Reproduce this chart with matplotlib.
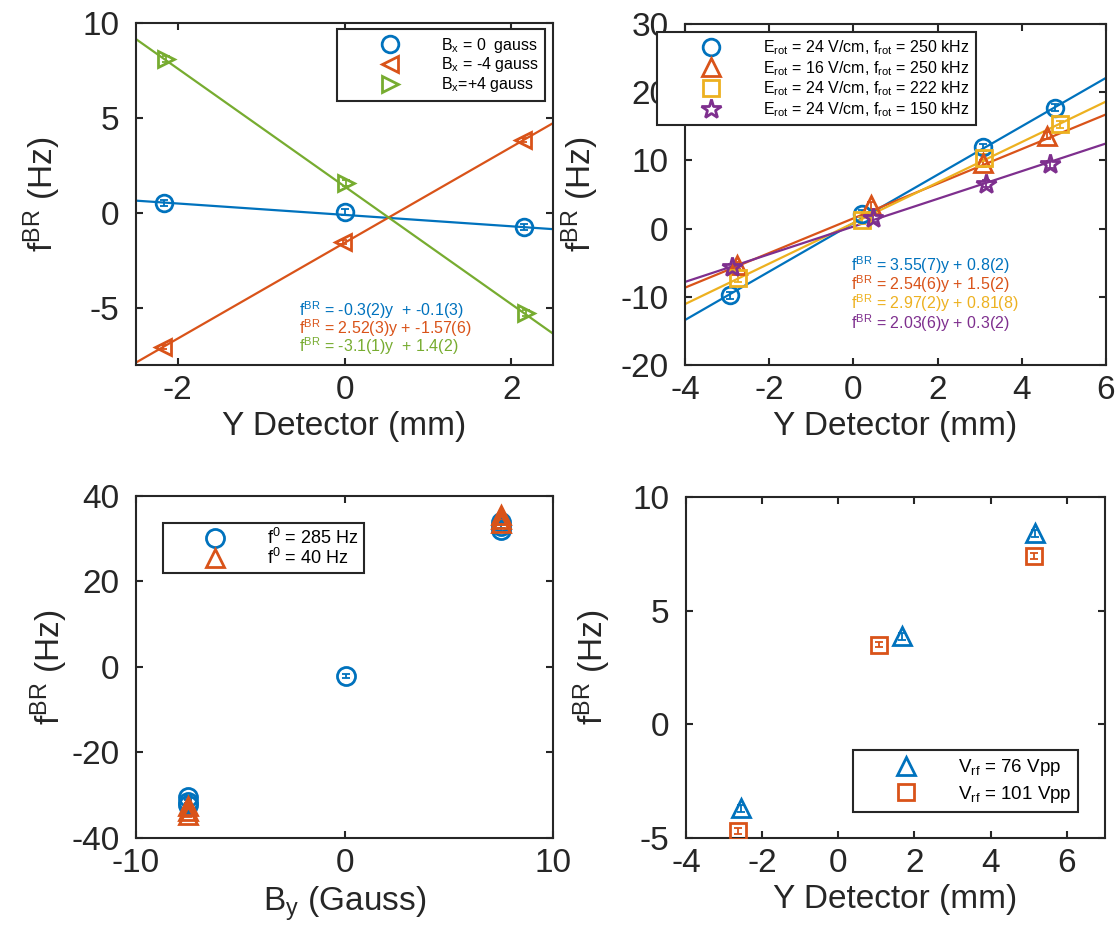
import numpy as np
import matplotlib
matplotlib.use("Agg")
import matplotlib.pyplot as plt
from matplotlib.legend_handler import HandlerLine2D
from matplotlib.lines import Line2D

plt.rcParams['font.family'] = ['Liberation Sans', 'DejaVu Sans']
plt.rcParams['mathtext.fontset'] = 'custom'
plt.rcParams['mathtext.rm'] = 'Liberation Sans'
plt.rcParams['mathtext.it'] = 'Liberation Sans:italic'
plt.rcParams['mathtext.bf'] = 'Liberation Sans:bold'
plt.rcParams['axes.unicode_minus'] = False

BLUE = '#0072BD'
ORANGE = '#D95319'
YELLOW = '#EDB120'
PURPLE = '#7E2F8E'
GREEN = '#77AC30'
AXC = '#262626'

# ---------------- Data: panel A (top-left) ----------------
a_labels = [r'B$_{\rm x}$ = 0  gauss', r'B$_{\rm x}$ = -4 gauss', r'B$_{\rm x}$=+4 gauss']
a_x = [[-2.16, 0.01, 2.15], [-2.18, -0.02, 2.14], [-2.14, 0.02, 2.17]]
a_y = [[0.53, 0.05, -0.74], [-7.05, -1.53, 3.84], [8.1, 1.58, -5.28]]
a_err = [[0.15, 0.15, 0.15], [0.12, 0.12, 0.12], [0.15, 0.15, 0.15]]
a_slope = [-0.3, 2.52, -3.1]
a_icpt = [-0.1, -1.57, 1.4]
a_text = [r'f$^{\rm BR}$ = -0.3(2)y  + -0.1(3)',
          r'f$^{\rm BR}$ = 2.52(3)y + -1.57(6)',
          r'f$^{\rm BR}$ = -3.1(1)y  + 1.4(2)']

# ---------------- Data: panel B (top-right) ----------------
b_labels = [r'E$_{\rm rot}$ = 24 V/cm, f$_{\rm rot}$ = 250 kHz',
            r'E$_{\rm rot}$ = 16 V/cm, f$_{\rm rot}$ = 250 kHz',
            r'E$_{\rm rot}$ = 24 V/cm, f$_{\rm rot}$ = 222 kHz',
            r'E$_{\rm rot}$ = 24 V/cm, f$_{\rm rot}$ = 150 kHz']
b_x = [[-2.93, 0.2, 3.08, 4.79], [-2.76, 0.42, 3.08, 4.6],
       [-2.74, 0.2, 3.1, 4.9], [-2.88, 0.47, 3.15, 4.67]]
b_y = [[-9.8, 2.2, 11.9, 17.7], [-5.4, 3.4, 9.6, 13.6],
       [-7.3, 1.2, 10.4, 15.3], [-5.7, 1.5, 6.6, 9.4]]
b_err = [[0.5, 0.5, 0.5, 0.5]] * 4
b_slope = [3.55, 2.54, 2.97, 2.03]
b_icpt = [0.8, 1.5, 0.81, 0.3]
b_text = [r'f$^{\rm BR}$ = 3.55(7)y + 0.8(2)',
          r'f$^{\rm BR}$ = 2.54(6)y + 1.5(2)',
          r'f$^{\rm BR}$ = 2.97(2)y + 0.81(8)',
          r'f$^{\rm BR}$ = 2.03(6)y + 0.3(2)']

# ---------------- Data: panel C (bottom-left) ----------------
c_labels = [r'f$^{0}$ = 285 Hz', r'f$^{0}$ = 40 Hz']
c_x = [[-7.5, -7.5, -7.5, 0.07, 7.5, 7.5, 7.5],
       [-7.5, -7.5, -7.5, 7.5, 7.5, 7.5]]
c_y = [[-30.5, -31.5, -32.3, -2.1, 32.0, 33.0, 34.0],
       [-32.5, -33.6, -34.6, 33.6, 34.6, 35.6]]
c_err = [[0.4] * 7, [0.4] * 6]

# ---------------- Data: panel D (bottom-right) ----------------
d_labels = [r'V$_{\rm rf}$ = 76 Vpp', r'V$_{\rm rf}$ = 101 Vpp']
d_x = [[-2.55, 1.66, 5.16], [-2.63, 1.08, 5.13]]
d_y = [[-3.7, 3.87, 8.4], [-4.7, 3.5, 7.4]]
d_err = [[0.15, 0.15, 0.15], [0.12, 0.12, 0.12]]

fig = plt.figure(figsize=(11.17, 9.39), dpi=100)

TICK_FS = 24
MEW = 2.0


class OffsetMarkerHandler(HandlerLine2D):
    """Legend handler that puts the marker at a chosen fraction of the handle."""

    def __init__(self, frac, **kw):
        super().__init__(**kw)
        self.frac = frac

    def get_xdata(self, legend, xdescent, ydescent, width, height, fontsize):
        xdata = np.array([-xdescent, -xdescent + width])
        xm = np.array([-xdescent + self.frac * width])
        return xdata, xm


def style_axes(ax):
    for s in ax.spines.values():
        s.set_linewidth(1.5)
        s.set_color(AXC)
    ax.tick_params(direction='in', top=True, right=True, length=5, width=1.5,
                   labelsize=TICK_FS, colors=AXC)
    ax.tick_params(axis='x', pad=7)
    ax.tick_params(axis='y', pad=12)


def make_legend(ax, loc, anchor, fs, bpad_px, marker_px, text_px, lspace):
    fpx = fs * 100 / 72.0
    tpad_px = 0.3 * fpx
    L_px = text_px - bpad_px - tpad_px
    frac = (marker_px - bpad_px) / L_px
    leg = ax.legend(loc=loc, bbox_to_anchor=anchor, fontsize=fs,
                    frameon=True, fancybox=False, framealpha=1,
                    edgecolor=AXC, borderpad=bpad_px / fpx,
                    handlelength=L_px / fpx, handletextpad=0.3,
                    labelspacing=lspace, borderaxespad=0,
                    handler_map={Line2D: OffsetMarkerHandler(frac)})
    leg.get_frame().set_linewidth(1.5)
    return leg


# ---------- Panel A ----------
axA = fig.add_axes([0.1218, 0.6113, 0.3733, 0.3642])
a_cols = [BLUE, ORANGE, GREEN]
a_mk = ['o', '<', '>']
axA.set_xlim(-2.5, 2.5)
axA.set_ylim(-8, 10)
xs = np.array(axA.get_xlim())
for i in range(3):
    axA.plot(xs, a_slope[i] * xs + a_icpt[i], color=a_cols[i], lw=1.6, zorder=2)
for i in range(3):
    axA.errorbar(a_x[i], a_y[i], yerr=a_err[i], fmt='none', ecolor=a_cols[i],
                 elinewidth=1.3, capsize=3, capthick=1.3, zorder=3)
    axA.plot(a_x[i], a_y[i], linestyle='none', marker=a_mk[i], ms=12,
             mfc='none', mec=a_cols[i], mew=MEW, label=a_labels[i], zorder=4)
for i in range(3):
    axA.text(-0.55, -5.1 - 0.95 * i, a_text[i], color=a_cols[i], fontsize=11.5,
             va='center', ha='left')
axA.set_xticks([-2, 0, 2])
axA.set_yticks([-5, 0, 5, 10])
style_axes(axA)
axA.set_xlabel('Y Detector (mm)', fontsize=TICK_FS, color=AXC, labelpad=4)
axA.set_ylabel(r'f$^{\rm BR}$ (Hz)', fontsize=TICK_FS, color=AXC, labelpad=14)
make_legend(axA, 'upper right', (0.981, 0.982), 11.5, 6.5, 57, 104, 0.05)

# ---------- Panel B ----------
axB = fig.add_axes([0.6133, 0.6113, 0.3769, 0.3632])
b_cols = [BLUE, ORANGE, YELLOW, PURPLE]
b_mk = ['o', '^', 's', '*']
b_ms = [12, 13, 11, 15]
axB.set_xlim(-4, 6)
axB.set_ylim(-20, 30)
xs = np.array(axB.get_xlim())
for i in range(4):
    axB.plot(xs, b_slope[i] * xs + b_icpt[i], color=b_cols[i], lw=1.6, zorder=2)
for i in range(4):
    axB.errorbar(b_x[i], b_y[i], yerr=b_err[i], fmt='none', ecolor=b_cols[i],
                 elinewidth=1.3, capsize=3, capthick=1.3, zorder=3)
    axB.plot(b_x[i], b_y[i], linestyle='none', marker=b_mk[i], ms=b_ms[i],
             mfc='none', mec=b_cols[i], mew=MEW, label=b_labels[i], zorder=4)
for i in range(4):
    axB.text(-0.05, -5.4 - 2.8 * i, b_text[i], color=b_cols[i], fontsize=11.5,
             va='center', ha='left')
axB.set_xticks([-4, -2, 0, 2, 4, 6])
axB.set_yticks([-20, -10, 0, 10, 20, 30])
style_axes(axB)
axB.set_xlabel('Y Detector (mm)', fontsize=TICK_FS, color=AXC, labelpad=4)
axB.set_ylabel(r'f$^{\rm BR}$ (Hz)', fontsize=TICK_FS, color=AXC, labelpad=14)
make_legend(axB, 'upper right', (0.691, 0.977), 11.5, 6.5, 57, 106, 0.12)

# ---------- Panel C ----------
axC = fig.add_axes([0.1218, 0.1076, 0.3733, 0.3642])
c_cols = [BLUE, ORANGE]
c_mk = ['o', '^']
axC.set_xlim(-10, 10)
axC.set_ylim(-40, 40)
for i in range(2):
    axC.errorbar(c_x[i], c_y[i], yerr=c_err[i], fmt='none', ecolor=c_cols[i],
                 elinewidth=1.3, capsize=3, capthick=1.3, zorder=3)
    axC.plot(c_x[i], c_y[i], linestyle='none', marker=c_mk[i], ms=13,
             mfc='none', mec=c_cols[i], mew=MEW, label=c_labels[i], zorder=4)
axC.set_xticks([-10, 0, 10])
axC.set_yticks([-40, -20, 0, 20, 40])
style_axes(axC)
axC.set_xlabel(r'B$_{\rm y}$ (Gauss)', fontsize=TICK_FS, color=AXC, labelpad=4)
axC.set_ylabel(r'f$^{\rm BR}$ (Hz)', fontsize=TICK_FS, color=AXC, labelpad=1)
make_legend(axC, 'upper left', (0.065, 0.921), 13, 5, 58, 104, 0.0)

# ---------- Panel D ----------
axD = fig.add_axes([0.6141, 0.1076, 0.3751, 0.3632])
d_cols = [BLUE, ORANGE]
d_mk = ['^', 's']
d_ms = [13, 11]
axD.set_xlim(-4, 7)
axD.set_ylim(-5, 10)
for i in range(2):
    axD.errorbar(d_x[i], d_y[i], yerr=d_err[i], fmt='none', ecolor=d_cols[i],
                 elinewidth=1.3, capsize=3, capthick=1.3, zorder=3)
    axD.plot(d_x[i], d_y[i], linestyle='none', marker=d_mk[i], ms=d_ms[i],
             mfc='none', mec=d_cols[i], mew=MEW, label=d_labels[i], zorder=4)
axD.set_xticks([-4, -2, 0, 2, 4, 6])
axD.set_yticks([-5, 0, 5, 10])
style_axes(axD)
axD.set_xlabel('Y Detector (mm)', fontsize=TICK_FS, color=AXC, labelpad=4)
axD.set_ylabel(r'f$^{\rm BR}$ (Hz)', fontsize=TICK_FS, color=AXC, labelpad=14)
make_legend(axD, 'lower right', (0.936, 0.076), 13.5, 7, 55, 105, 0.3)

fig.savefig('out.png', dpi=100)
